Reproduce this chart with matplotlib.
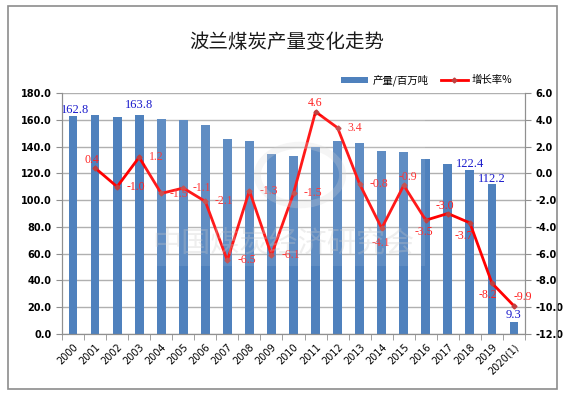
import numpy as np
import matplotlib.pyplot as plt
from matplotlib.patches import Rectangle, Circle
from matplotlib.lines import Line2D
from matplotlib.ticker import FormatStrFormatter

plt.rcParams['font.family'] = ['Noto Sans CJK SC', 'DejaVu Sans']

YEARS = ['2000', '2001', '2002', '2003', '2004', '2005', '2006', '2007', '2008', '2009',
         '2010', '2011', '2012', '2013', '2014', '2015', '2016', '2017', '2018', '2019', '2020(1)']
OUTPUT = [162.8, 163.4, 161.8, 163.8, 160.8, 159.5, 155.8, 145.6, 143.9, 134.6,
          132.6, 139.3, 143.8, 142.6, 136.9, 135.9, 130.9, 126.9, 122.4, 112.2, 9.3]
GROWTH = [0.4, -1.0, 1.2, -1.5, -1.1, -2.1, -6.5, -1.3, -6.1,
          -1.5, 4.6, 3.4, -0.8, -4.1, -0.9, -3.5, -3.0, -3.7, -8.2, -9.9]
OUTPUT_LABELED = [0, 3, 18, 19, 20]

# label offsets in pixels (dx, dy), label centre relative to the point
growth_offsets = [(-3, 8), (19, 0), (17, 0), (18, -1), (19, 0), (19, 0), (20, 0), (19, 0), (19, 0),
                  (19, 0), (0, 9), (17, 0), (19, 0), (-1, -15), (4, 8), (-2, -12), (-3, 8),
                  (-6, -13), (-4, -12), (9, 9)]
output_offsets = {0: (2, 6), 3: (0, 10), 18: (0, 6), 19: (0, 5), 20: (0, 7)}

fig = plt.figure(figsize=(5.68, 3.97), dpi=100)
fig.patches.append(Rectangle((8 / 568, 1 - 389 / 397), 549 / 568, 383 / 397,
                             transform=fig.transFigure, fill=False, edgecolor='#8c8c8c', lw=1.2))

ax = fig.add_axes([62 / 568, 1 - 334 / 397, 463 / 568, 241 / 397])
ax2 = ax.twinx()

x = np.arange(len(YEARS))
ax.bar(x, OUTPUT, width=0.4, color='#4f81bd', zorder=2)
ax.set_xlim(-0.5, len(YEARS) - 0.5)
ax.set_ylim(0, 180)
ax.set_yticks(np.arange(0, 181, 20))
ax.yaxis.set_major_formatter(FormatStrFormatter('%.1f'))
ax.grid(axis='y', color='#b0b0b0', lw=1, zorder=0)
ax.set_axisbelow(True)

ax.set_xticks(x)
ax.set_xticklabels(YEARS, rotation=45, ha='right', rotation_mode='anchor',
                   fontsize=7, family='DejaVu Sans')
ax.set_xticks(np.arange(-0.5, len(YEARS)), minor=True)
ax.tick_params(axis='x', which='major', length=0, pad=6)
ax.tick_params(axis='x', which='minor', length=4, color='#909090')
ax.tick_params(axis='y', length=4, color='#909090', labelsize=7)
for lab in ax.get_yticklabels():
    lab.set_fontweight('bold')
    lab.set_family('DejaVu Sans')

ax2.plot(np.arange(1, len(YEARS)), GROWTH, color='#ff0000', lw=2, marker='D',
         markersize=2.5, markerfacecolor='#c04040', markeredgecolor='#c04040', zorder=3)
ax2.set_ylim(-12, 6)
ax2.set_yticks(np.arange(-12, 6.1, 2))
ax2.yaxis.set_major_formatter(FormatStrFormatter('%.1f'))
ax2.tick_params(axis='y', length=4, color='#909090', labelsize=7)
for lab in ax2.get_yticklabels():
    lab.set_fontweight('bold')
    lab.set_family('DejaVu Sans')

for a in (ax, ax2):
    a.spines['top'].set_visible(False)
    for s in ('left', 'right', 'bottom'):
        a.spines[s].set_color('#909090')

for i, (g, off) in enumerate(zip(GROWTH, growth_offsets)):
    ax2.annotate(f'{g:.1f}', (i + 1, g), xytext=off, textcoords='offset pixels',
                 ha='center', va='center', color='#ff2020', fontsize=8.5,
                 family='Liberation Serif', zorder=4)

for i in OUTPUT_LABELED:
    dx, dy = output_offsets[i]
    ax.annotate(f'{OUTPUT[i]:.1f}', (i, OUTPUT[i]), xytext=(dx, dy), textcoords='offset pixels',
                ha='center', va='center', color='#1a1acc', fontsize=9,
                family='Liberation Serif', zorder=5)

# faint watermark
fig.patches.append(Rectangle((145 / 568, 1 - 266 / 397), 280 / 568, 150 / 397,
                             transform=fig.transFigure, facecolor='white', alpha=0.1,
                             edgecolor='none', zorder=3))
fig.patches.append(Circle((300 / 568, 1 - 175 / 397), 0.075, transform=fig.transFigure,
                          fill=False, edgecolor='#d8d8d8', lw=5, alpha=0.25, zorder=3))
fig.text(283 / 568, 1 - 245 / 397, '中国煤炭经济研究会', ha='center', va='center',
         fontsize=21, color='#c8c8c8', alpha=0.3, zorder=3)

fig.text(287 / 568, 1 - 42 / 397, '波兰煤炭产量变化走势', ha='center', va='center',
         fontsize=14, color='#1a1a1a')

handles = [Rectangle((0, 0), 1, 1, facecolor='#4f81bd'),
           Line2D([], [], color='#ff0000', lw=2, marker='D', markersize=2.5,
                  markerfacecolor='#c04040', markeredgecolor='#c04040')]
fig.legend(handles, ['产量/百万吨', '增长率%'], ncol=2, frameon=False, fontsize=7.5,
           loc='center right', bbox_to_anchor=(522 / 568, 1 - 80 / 397),
           handlelength=2.6, handleheight=0.5, handletextpad=0.4, columnspacing=1.2)

fig.savefig('out.png', dpi=100)
